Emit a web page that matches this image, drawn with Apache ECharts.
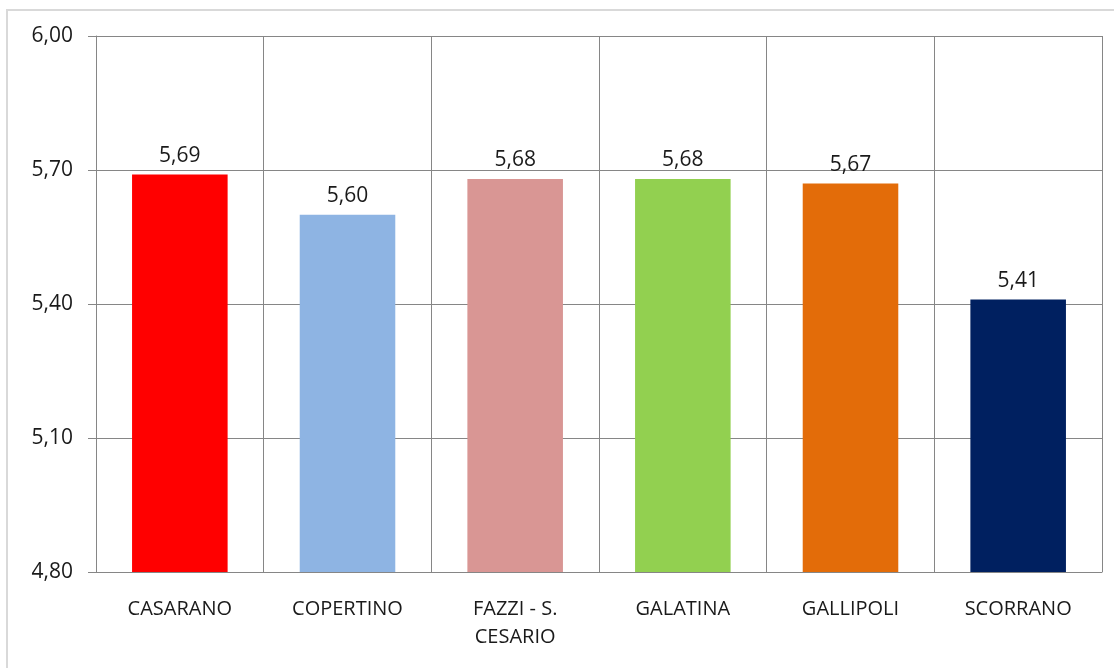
<!DOCTYPE html>
<html>
<head>
<meta charset="utf-8">
<script src="https://cdn.jsdelivr.net/npm/echarts@6/dist/echarts.min.js"></script>
<style>html,body{margin:0;padding:0;background:#fff}#c{width:1114px;height:668px}</style>
</head>
<body>
<div id="c"></div>
<script>
const categories = ['CASARANO', 'COPERTINO', 'FAZZI - S.\nCESARIO', 'GALATINA', 'GALLIPOLI', 'SCORRANO'];
const values = [5.69, 5.60, 5.68, 5.68, 5.67, 5.41];
const colors = ['#FF0000', '#8EB4E3', '#D99694', '#92D050', '#E36C09', '#002060'];
const yMin = 4.8, yMax = 6.0, yStep = 0.3;
const fmt = v => Number(v).toFixed(2).replace('.', ',');
const chart = echarts.init(document.getElementById('c'));
const font = '"Open Sans", "Noto Sans", sans-serif';
chart.setOption({
  animation: false,
  backgroundColor: '#fff',
  graphic: [{
    type: 'rect', shape: { x: 7, y: 10, width: 1130, height: 700 },
    style: { fill: 'none', stroke: '#d9d9d9', lineWidth: 2 }, silent: true, z: -1
  }],
  grid: { left: 96, right: 12, top: 36, bottom: 96, containLabel: false },
  xAxis: {
    type: 'category', data: categories, boundaryGap: true,
    axisLine: { show: true, lineStyle: { color: '#868686', width: 1 } },
    axisTick: { show: false },
    splitLine: { show: true, lineStyle: { color: '#868686', width: 1 } },
    axisLabel: { color: '#1a1a1a', fontFamily: font, fontSize: 20, margin: 23, lineHeight: 28, interval: 0 }
  },
  yAxis: {
    type: 'value', min: yMin, max: yMax, interval: yStep,
    axisLine: { show: true, lineStyle: { color: '#868686', width: 1 } },
    axisTick: { show: true, length: 8, lineStyle: { color: '#868686' } },
    splitLine: { show: true, lineStyle: { color: '#868686', width: 1 } },
    axisLabel: { color: '#1a1a1a', fontFamily: font, fontSize: 21, margin: 23, formatter: fmt }
  },
  series: [{
    type: 'bar', barWidth: '57%',
    data: values.map((v, i) => ({ value: v, itemStyle: { color: colors[i] } })),
    label: { show: true, position: 'top', distance: 8, color: '#1a1a1a', fontFamily: font, fontSize: 21, formatter: p => fmt(p.value) }
  }]
});
</script>
</body>
</html>
